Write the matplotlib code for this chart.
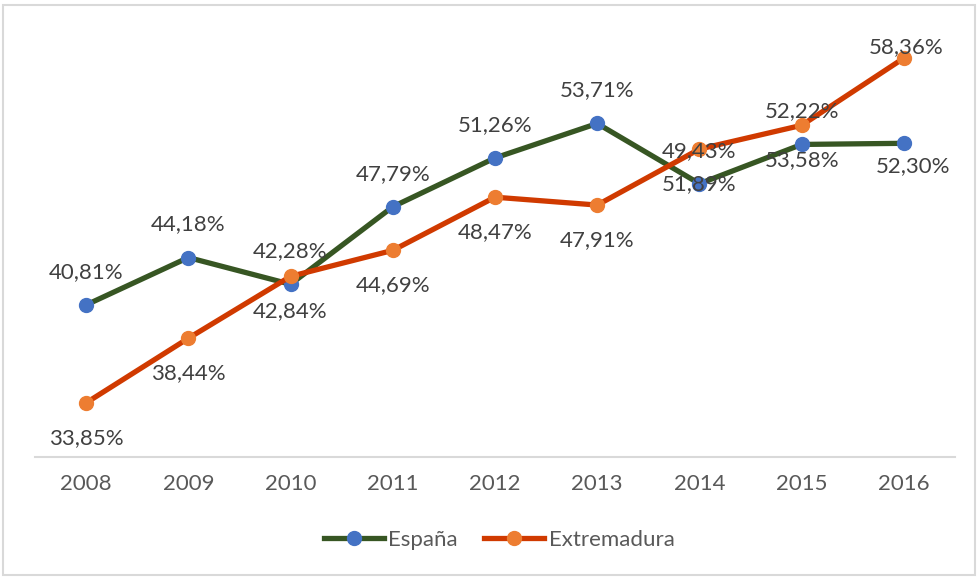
import matplotlib.pyplot as plt
from matplotlib.patches import Rectangle

plt.rcParams['font.family'] = ['Lato', 'DejaVu Sans']

years = ['2008', '2009', '2010', '2011', '2012', '2013', '2014', '2015', '2016']
espana = [40.81, 44.18, 42.28, 47.79, 51.26, 53.71, 49.43, 52.22, 52.30]
extremadura = [33.85, 38.44, 42.84, 44.69, 48.47, 47.91, 51.89, 53.58, 58.36]

fig = plt.figure(figsize=(9.79, 5.78), dpi=100)
ax = fig.add_axes([35 / 979, 1 - 457 / 578, 920 / 979, 422 / 578])

x = range(len(years))
ax.plot(x, espana, color='#375623', lw=3.8, marker='o', ms=10,
        mfc='#4472C4', mec='#4472C4', label='España', zorder=3)
ax.plot(x, extremadura, color='#D03A00', lw=3.8, marker='o', ms=10,
        mfc='#ED7D31', mec='#ED7D31', label='Extremadura', zorder=4)


def pct(v):
    return f'{v:.2f}%'.replace('.', ',')


# labels: España above, Extremadura below (last point adjusted)
for i, v in enumerate(espana):
    dx, dy = (9, -23) if i == len(espana) - 1 else (0, 33)
    ax.annotate(pct(v), (i, v), xytext=(dx * 0.72, dy * 0.72), textcoords='offset points',
                ha='center', va='center', fontsize=16, color='#404040', zorder=5)
for i, v in enumerate(extremadura):
    dx, dy = (2, 11) if i == len(extremadura) - 1 else (0, -35)
    ax.annotate(pct(v), (i, v), xytext=(dx * 0.72, dy * 0.72), textcoords='offset points',
                ha='center', va='center', fontsize=16, color='#404040', zorder=5)

ax.set_xlim(-0.5, 8.5)
ax.set_ylim(30, 60)
ax.set_xticks(list(x))
ax.set_xticklabels(years, fontsize=16, color='#595959')
ax.tick_params(axis='x', length=0, pad=12)
ax.set_yticks([])
for s in ['top', 'left', 'right']:
    ax.spines[s].set_visible(False)
ax.spines['bottom'].set_color('#D9D9D9')
ax.spines['bottom'].set_linewidth(1.5)

leg = fig.legend(loc='center', bbox_to_anchor=(0.51, 1 - 540 / 578), ncol=2,
                 frameon=False, fontsize=16, handlelength=2.7, columnspacing=1.2,
                 handletextpad=0.2)
for t in leg.get_texts():
    t.set_color('#595959')

fig.patches.append(Rectangle((3 / 979, 3 / 578), 972 / 979, 570 / 578,
                             transform=fig.transFigure, fill=False,
                             edgecolor='#D9D9D9', lw=1.5))

fig.savefig('out.png', dpi=100, facecolor='white')
